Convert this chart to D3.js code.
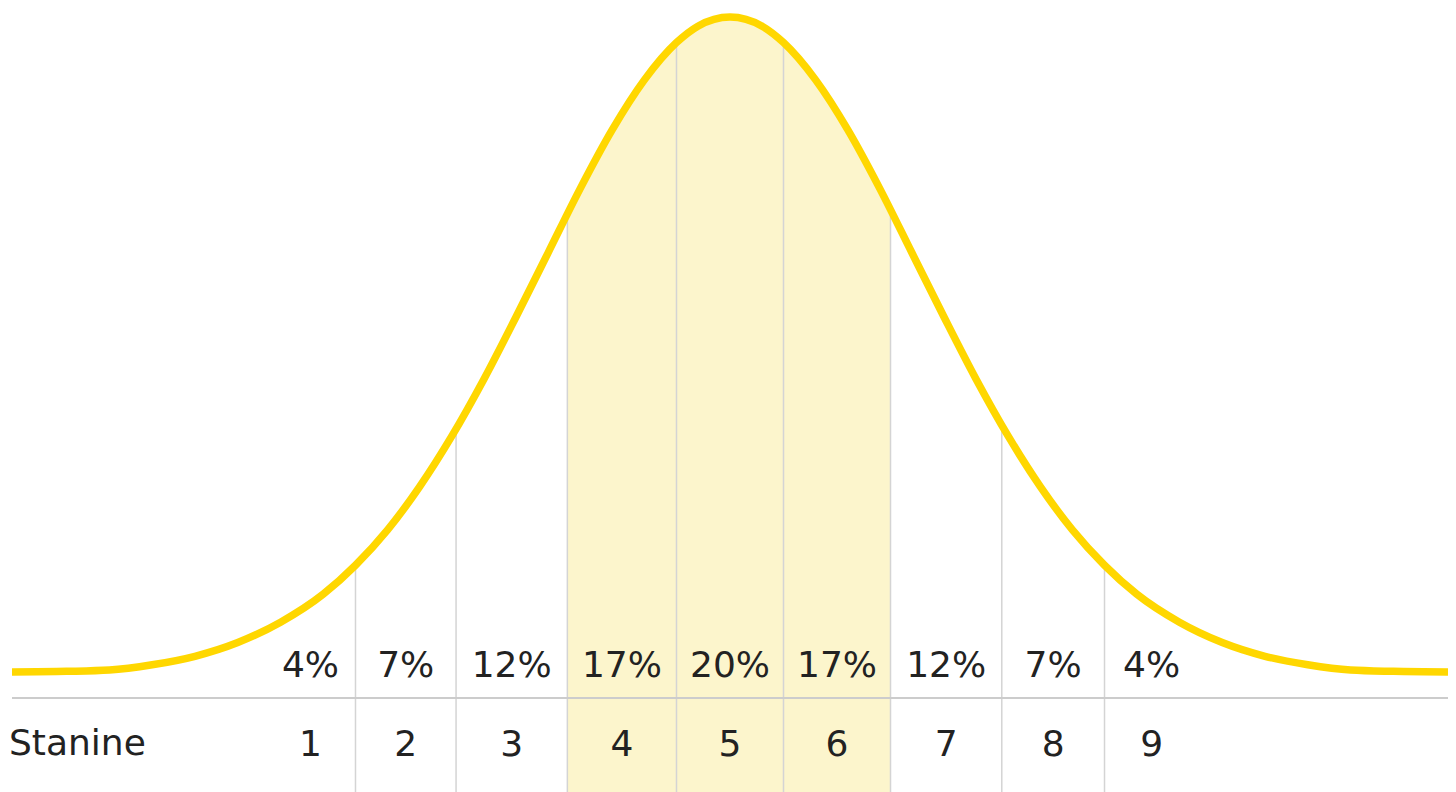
<!DOCTYPE html>
<html>
<head>
<meta charset="utf-8">
<script src="https://cdn.jsdelivr.net/npm/d3@7"></script>
<style>
  html, body { margin: 0; padding: 0; background: #fff; }
  svg { display: block; }
  text { font-family: "DejaVu Sans", sans-serif; fill: #222; }
</style>
</head>
<body>
<svg id="graph" width="1456" height="792"></svg>
<script>
// curve: position in z units, relative height (peak = 1)
var curveZ = [-3.355, -3.1, -2.9, -2.7, -2.5, -2.3, -2.1, -1.9, -1.75, -1.6, -1.45, -1.3, -1.15, -1.0, -0.85, -0.7, -0.55, -0.4, -0.25, -0.15, 0,
              0.15, 0.25, 0.4, 0.55, 0.7, 0.85, 1.0, 1.15, 1.3, 1.45, 1.6, 1.75, 1.9, 2.1, 2.3, 2.5, 2.7, 2.9, 3.1, 3.355];
var curveH = [0, 0.001, 0.003, 0.011, 0.024, 0.045, 0.076, 0.119, 0.163, 0.217, 0.283, 0.360, 0.447, 0.542, 0.640, 0.738, 0.828, 0.904, 0.961, 0.986, 1,
              0.986, 0.961, 0.904, 0.828, 0.738, 0.640, 0.542, 0.447, 0.360, 0.283, 0.217, 0.163, 0.119, 0.076, 0.045, 0.024, 0.011, 0.003, 0.001, 0];

// stanine band edges (z); outer edges only centre the labels of 1 and 9
var edges = [-2.17, -1.75, -1.28, -0.76, -0.25, 0.25, 0.75, 1.27, 1.75, 2.19];
var stanines = ["1", "2", "3", "4", "5", "6", "7", "8", "9"];
var percents = ["4%", "7%", "12%", "17%", "20%", "17%", "12%", "7%", "4%"];
var shaded = ["4", "5", "6"];

var width = 1456, height = 792;
var svg = d3.select("#graph");

var x = d3.scaleLinear().domain([-3.355, 3.355]).range([12, 1448]);
var y = d3.scaleLinear().domain([0, 1]).range([672, 17]);

var curve = curveZ.map((z, i) => ({ z: z, h: curveH[i] }));
var smooth = d3.curveMonotoneX;

// curve height at any z, linear between read points (only used to clip shading/lines)
var hAt = d3.scaleLinear().domain(curveZ).range(curveH);

// shaded middle bands, curve down to the bottom edge
var shadeLo = edges[stanines.indexOf(shaded[0])];
var shadeHi = edges[stanines.indexOf(shaded[shaded.length - 1]) + 1];
var shadePts = curve.filter(d => d.z > shadeLo && d.z < shadeHi);
shadePts.unshift({ z: shadeLo, h: hAt(shadeLo) });
shadePts.push({ z: shadeHi, h: hAt(shadeHi) });

svg.append("path")
    .datum(shadePts)
    .attr("fill", "#fcf5cc")
    .attr("d", d3.area().curve(smooth).x(d => x(d.z)).y0(height).y1(d => y(d.h)));

// band separators
svg.append("g")
  .selectAll("line")
  .data(edges.slice(1, -1))
  .join("line")
    .attr("x1", d => x(d)).attr("x2", d => x(d))
    .attr("y1", d => y(hAt(d)) + 3)
    .attr("y2", height)
    .attr("stroke", "#d4d4d4")
    .attr("stroke-width", 1.5);

// base rule
svg.append("line")
    .attr("x1", x.range()[0]).attr("x2", x.range()[1])
    .attr("y1", 698).attr("y2", 698)
    .attr("stroke", "#cccccc")
    .attr("stroke-width", 2);

// the bell curve
svg.append("path")
    .datum(curve)
    .attr("fill", "none")
    .attr("stroke", "#ffd700")
    .attr("stroke-width", 7.5)
    .attr("d", d3.line().curve(smooth).x(d => x(d.z)).y(d => y(d.h)));

var mid = i => x((edges[i] + edges[i + 1]) / 2);

svg.append("g")
  .selectAll("text")
  .data(percents)
  .join("text")
    .attr("x", (d, i) => mid(i))
    .attr("y", 677)
    .attr("text-anchor", "middle")
    .attr("font-size", 36)
    .text(d => d);

svg.append("g")
  .selectAll("text")
  .data(stanines)
  .join("text")
    .attr("x", (d, i) => mid(i))
    .attr("y", 756)
    .attr("text-anchor", "middle")
    .attr("font-size", 36)
    .text(d => d);

svg.append("text")
    .attr("x", 9)
    .attr("y", 755)
    .attr("font-size", 36)
    .text("Stanine");
</script>
</body>
</html>
